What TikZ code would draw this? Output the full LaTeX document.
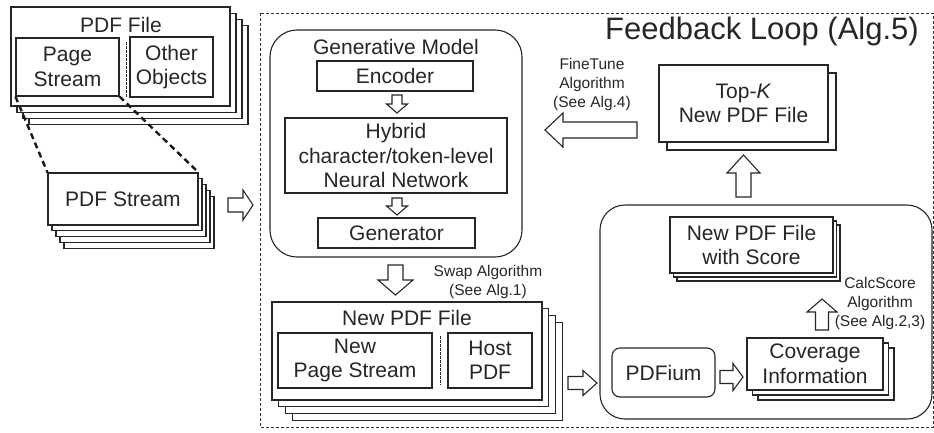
\documentclass[tikz,border=0pt]{standalone}
\usepackage{fontspec}
\setmainfont{Liberation Sans}
\usetikzlibrary{shadows,fit,calc}

\tikzset{
  every node/.style={text=black!85, inner sep=0pt},
  lbl/.style={font=\fontsize{21}{24.5}\selectfont, align=center},
  small/.style={font=\fontsize{15.5}{19}\selectfont, align=center},
  box/.style={draw=black!85, line width=1.1pt, fill=white},
  sized/.style 2 args={minimum width=#1, minimum height=#2},
  layer/.style={draw=black!85, line width=1.1pt, fill=white},
  pile1/.style 2 args={copy shadow={layer, shadow xshift=#1, shadow yshift=-#2}},
  pile2/.style 2 args={copy shadow={layer, shadow xshift=2*#1, shadow yshift=-2*#2}, pile1={#1}{#2}},
  pile3/.style 2 args={copy shadow={layer, shadow xshift=3*#1, shadow yshift=-3*#2}, pile2={#1}{#2}},
  pile4/.style 2 args={copy shadow={layer, shadow xshift=4*#1, shadow yshift=-4*#2}, pile3={#1}{#2}},
  divider/.style={draw=black!85, line width=0.9pt, dash pattern=on 2.5pt off 1.5pt},
  zoomline/.style={draw=black!90, line width=2.4pt, dash pattern=on 6pt off 4pt},
  loopframe/.style={draw=black!80, line width=0.8pt, dash pattern=on 3pt off 2pt},
  arrowline/.style={draw=black!85, line width=1.1pt, fill=white, line join=miter},
  pics/fatarrow/.style n args={4}{code={
    \draw[arrowline] (0,-#3) -- ({#1-#2},-#3) -- ({#1-#2},-#4) -- (#1,0)
      -- ({#1-#2},#4) -- ({#1-#2},#3) -- (0,#3) -- cycle;
  }},
}

\begin{document}
\begin{tikzpicture}[x=1pt, y=-1pt]
\useasboundingbox (0,0) rectangle (934,432);

% feedback loop frame
\draw[loopframe] (260,13) rectangle (933,427);
\node[font=\fontsize{31}{36}\selectfont] (looptitle) at (762,31) {Feedback Loop (Alg.5)};

% input PDF file
\node[box, pile3={6pt}{6.3pt}, fit={(11,7)(230,106)}] (pdffile) {};
\node[lbl] (pdffiletitle) at (121,25) {PDF File};
\node[box, lbl, sized={103pt}{58pt}] (pagestream) at (67.5,67) {Page\\Stream};
\node[box, lbl, sized={83pt}{60pt}] (otherobj) at (171.5,67) {Other\\Objects};
\draw[divider] (126,42) -- (126,97);

% extracted streams
\node[box, pile4={4pt}{5.8pt}, lbl, sized={150pt}{52pt}] (pdfstream) at (123,199) {PDF Stream};
\draw[zoomline] (pagestream.south west) -- (pdfstream.north west);
\draw[zoomline] (pagestream.south east) -- (pdfstream.north east);
\pic (streamin) at (228,205) {fatarrow={25}{10}{7}{15}};

% generative model
\node[box, rounded corners=27pt, fit={(270,30)(522,257)}] (genmodel) {};
\node[lbl] (gentitle) at (396,47) {Generative Model};
\node[box, lbl, sized={156pt}{30pt}] (encoder) at (395,76) {Encoder};
\node[box, lbl, sized={222pt}{75pt}] (hybrid) at (396,155.5) {Hybrid\\character/token-level\\Neural Network};
\node[box, lbl, sized={157pt}{30pt}] (generator) at (396.5,233) {Generator};
\pic[rotate=-90] (enctohyb) at (397,95) {fatarrow={18}{9}{5}{10.5}};
\pic[rotate=-90] (hybtogen) at (397,198) {fatarrow={17}{9}{5}{10.5}};

% swap step
\pic[rotate=-90] (swaparrow) at (395.5,265) {fatarrow={30}{15}{7.5}{17.5}};
\node[small] (swap) at (488,282) {Swap Algorithm\\(See Alg.1)};

% new PDF file
\node[box, pile3={6.7pt}{6.7pt}, fit={(272,302)(542,400)}] (newpdf) {};
\node[lbl] (newpdftitle) at (407,318) {New PDF File};
\node[box, lbl, sized={154pt}{55pt}] (newpage) at (355,360.5) {New\\Page Stream};
\node[box, lbl, sized={84pt}{55pt}] (hostpdf) at (490,360.5) {Host\\PDF};
\draw[divider] (440,336) -- (440,385);
\pic (toeval) at (568,383) {fatarrow={29}{14}{6.5}{12.5}};

% evaluation
\node[box, rounded corners=25pt, fit={(600,205)(932,419)}] (evalbox) {};
\node[box, pile2={3.5pt}{4pt}, lbl, sized={163pt}{56pt}] (scored) at (751.5,245) {New PDF File\\with Score};
\node[box, pile2={5.5pt}{5pt}, lbl, sized={136pt}{52pt}] (coverage) at (815,364) {Coverage\\Information};
\node[box, rounded corners=8pt, lbl, sized={103pt}{49pt}] (pdfium) at (663.5,372.5) {PDFium};
\pic (runcov) at (720,377) {fatarrow={23}{10}{6.5}{13.5}};
\pic[rotate=90] (scorearrow) at (822,330) {fatarrow={31}{13}{6.5}{15}};
\node[small] (calcscore) at (880,303) {CalcScore\\Algorithm\\(See Alg.2,3)};

% selection and fine tuning
\pic[rotate=90] (select) at (743.5,197) {fatarrow={42}{18}{7.5}{16.5}};
\node[box, pile1={8pt}{8pt}, lbl, sized={169pt}{77pt}] (topk) at (743.5,103.5) {Top-\textit{K}\\New PDF File};
\pic[rotate=180] (tune) at (637,130) {fatarrow={92}{18}{8}{17}};
\node[small] (finetune) at (592,84) {FineTune\\Algorithm\\(See Alg.4)};
\end{tikzpicture}
\end{document}
